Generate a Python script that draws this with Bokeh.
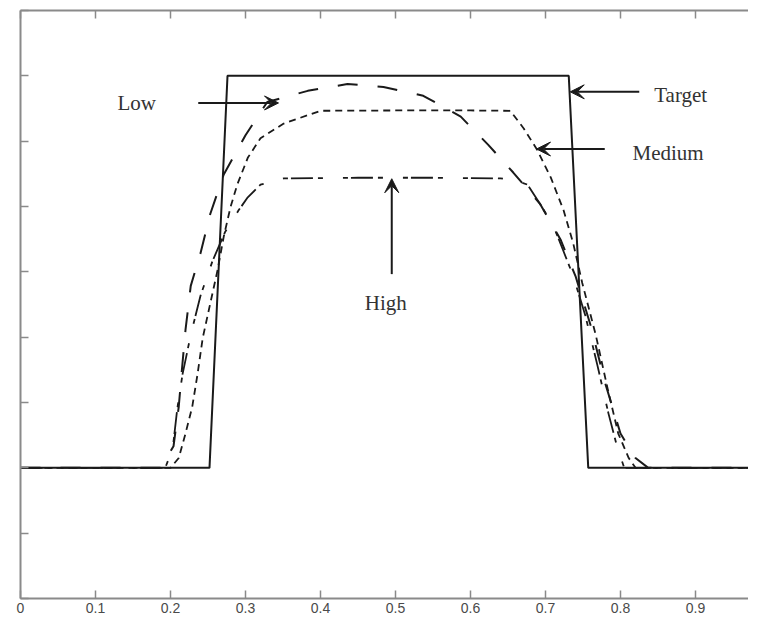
from bokeh.plotting import figure
from bokeh.models import LinearAxis, Range1d, FixedTicker, Arrow, VeeHead, Label
from bokeh.embed import file_html
from bokeh.resources import INLINE

# ---- data ----
target_x = [0.0, 0.252, 0.276, 0.731, 0.757, 1.0]
target_y = [0.0, 0.0, 1.2, 1.2, 0.0, 0.0]

low_x = [0.0, 0.187, 0.204, 0.211, 0.215, 0.22, 0.227, 0.24, 0.253, 0.271, 0.3, 0.329,
         0.383, 0.436, 0.484, 0.537, 0.587, 0.624, 0.657, 0.693, 0.72, 0.74, 0.76,
         0.78, 0.8, 0.82, 0.837, 1.0]
low_y = [0.0, 0.0, 0.066, 0.187, 0.295, 0.422, 0.557, 0.657, 0.777, 0.898, 1.018, 1.12,
         1.154, 1.175, 1.166, 1.139, 1.075, 0.988, 0.904, 0.807, 0.699, 0.587, 0.437,
         0.256, 0.105, 0.03, 0.0, 0.0]

med_x = [0.0, 0.2, 0.211, 0.22, 0.229, 0.236, 0.243, 0.263, 0.271, 0.28, 0.289, 0.303,
         0.32, 0.351, 0.4, 0.5, 0.6, 0.653, 0.671, 0.689, 0.707, 0.724, 0.737, 0.749,
         0.767, 0.783, 0.797, 0.811, 0.82, 1.0]
med_y = [0.0, 0.0, 0.03, 0.105, 0.187, 0.286, 0.398, 0.608, 0.708, 0.798, 0.867, 0.949,
         1.009, 1.054, 1.093, 1.094, 1.094, 1.093, 1.039, 0.973, 0.889, 0.789, 0.687,
         0.566, 0.407, 0.241, 0.105, 0.03, 0.0, 0.0]

high_x = [0.0, 0.193, 0.203, 0.209, 0.216, 0.227, 0.24, 0.256, 0.273, 0.291, 0.303, 0.32,
          0.351, 0.45, 0.55, 0.64, 0.66, 0.676, 0.693, 0.711, 0.724, 0.737, 0.753, 0.769,
          0.784, 0.796, 0.805, 1.0]
high_y = [0.0, 0.0, 0.06, 0.18, 0.286, 0.407, 0.527, 0.633, 0.723, 0.789, 0.828, 0.867,
          0.886, 0.888, 0.888, 0.886, 0.88, 0.867, 0.807, 0.738, 0.663, 0.587, 0.467,
          0.316, 0.166, 0.06, 0.0, 0.0]

x_ticks = [0.0, 0.1, 0.2, 0.3, 0.4, 0.5, 0.6, 0.7, 0.8, 0.9]
y_ticks = [-0.4, -0.2, 0.0, 0.2, 0.4, 0.6, 0.8, 1.0, 1.2, 1.4]

# ---- figure ----
p = figure(width=748, height=615, output_backend="svg", toolbar_location=None,
           x_range=Range1d(0, 728 / 750), y_range=Range1d(-0.4, 1.4),
           x_axis_location=None, y_axis_location=None,
           min_border_left=20, min_border_top=10, min_border_right=0, min_border_bottom=17)
p.frame_width = 728
p.frame_height = 588
p.outline_line_color = None
p.grid.visible = False
p.background_fill_color = "white"
p.border_fill_color = "white"

axis_col = "#8a8a8a"

def style_axis(ax, labels):
    ax.axis_line_color = axis_col
    ax.axis_line_width = 2
    ax.major_tick_line_color = axis_col
    ax.major_tick_line_width = 1.5
    ax.major_tick_in = 8
    ax.major_tick_out = 0
    ax.minor_tick_line_color = None
    if labels:
        ax.major_label_text_font = "Liberation Sans"
        ax.major_label_text_font_size = "14px"
        ax.major_label_text_color = "#4a4a4a"
        ax.major_label_standoff = 4
    else:
        ax.major_label_text_font_size = "1px"
        ax.major_label_text_color = None
        ax.major_label_standoff = 0

xb = LinearAxis(ticker=FixedTicker(ticks=x_ticks))
style_axis(xb, True)
p.add_layout(xb, "below")

xt = LinearAxis(ticker=FixedTicker(ticks=x_ticks))
style_axis(xt, False)
p.add_layout(xt, "above")

yl = LinearAxis(ticker=FixedTicker(ticks=y_ticks))
style_axis(yl, False)
p.add_layout(yl, "left")

# ---- curves ----
p.line(target_x, target_y, line_color="#1a1a1a", line_width=2)
p.line(low_x, low_y, line_color="#1a1a1a", line_width=2, line_dash="20 20")
p.line(med_x, med_y, line_color="#1a1a1a", line_width=1.8, line_dash="7 5")
p.line(high_x, high_y, line_color="#1a1a1a", line_width=1.8, line_dash="22 5 5 20 5 3")

# ---- annotations ----
def arrow(x0, y0, x1, y1):
    p.add_layout(Arrow(end=VeeHead(size=14, fill_color="#1a1a1a", line_color="#1a1a1a"),
                       x_start=x0, y_start=y0, x_end=x1, y_end=y1,
                       line_color="#1a1a1a", line_width=2))

arrow(0.237, 1.117, 0.344, 1.117)
arrow(0.825, 1.151, 0.733, 1.151)
arrow(0.779, 0.976, 0.688, 0.976)
arrow(0.495, 0.593, 0.495, 0.885)

def label(x, y, txt, align):
    p.add_layout(Label(x=x, y=y, text=txt, text_align=align, text_baseline="middle",
                       text_font="Liberation Serif", text_font_size="21px",
                       text_color="#333333"))

label(0.155, 1.117, "Low", "center")
label(0.845, 1.142, "Target", "left")
label(0.816, 0.964, "Medium", "left")
label(0.487, 0.506, "High", "center")

open("out.html", "w").write(file_html(p, INLINE))
